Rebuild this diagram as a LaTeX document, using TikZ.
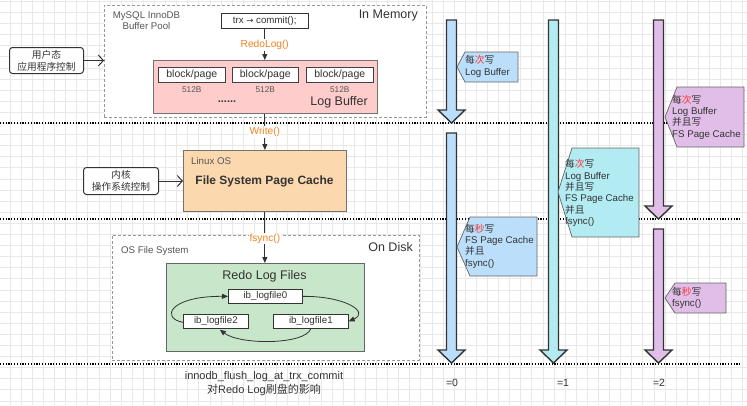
\documentclass[tikz,border=0pt]{standalone}
\usepackage{fontspec}
\setmainfont{Liberation Sans}
\newfontfamily\cjk{Noto Sans CJK SC}
\newfontfamily\dvs{DejaVu Sans}
\usetikzlibrary{arrows.meta,calc}
\definecolor{gridc}{HTML}{E8E8E8}
\definecolor{txt}{HTML}{333333}
\definecolor{graytxt}{HTML}{555555}
\definecolor{orng}{HTML}{F5821F}
\definecolor{hlred}{HTML}{FF3333}
\definecolor{pinkf}{HTML}{FFCCCC}
\definecolor{peachf}{HTML}{FCD8AE}
\definecolor{greenf}{HTML}{C8E6C9}
\definecolor{bluef}{HTML}{BBDEFB}
\definecolor{cyanf}{HTML}{B2EBF2}
\definecolor{purpf}{HTML}{E1BEE7}
\newcommand\zh[1]{{\cjk #1}}
\newcommand\hl[1]{{\cjk\color{hlred}#1}}
\newcommand\bigarrow[4]{%
  \draw[barrow, fill=#4] (#1-5,#2) -- (#1+5,#2) -- (#1+5,#3-13) -- (#1+13.5,#3-13)
    -- (#1,#3) -- (#1-13.5,#3-13) -- (#1-5,#3-13) -- cycle;}
\tikzset{
  x=1pt, y=-1pt,
  dotline/.style={draw=black, line width=1.1pt, dash pattern=on 1.2pt off 1.6pt},
  dashbox/.style={draw=gray!80, dashed, dash pattern=on 3pt off 2pt, fill=white, line width=0.7pt},
  plainbox/.style={draw=txt, fill=white, line width=0.6pt, inner sep=0pt, text=txt},
  barrow/.style={draw=black!80, line width=1.4pt, line join=miter},
  callout/.style={draw=black!60, line width=0.7pt},
  ctext/.style={text=txt, align=left, inner sep=0pt, font=\fontsize{9.7}{11.3}\selectfont},
  conn/.style={draw=txt, line width=0.8pt, -{Triangle[length=6pt,width=5pt]}},
  lbl/.style={text=orng, fill=white, inner sep=1pt, font=\fontsize{10.2}{11}\selectfont},
  ctrl/.style={draw=txt, line width=0.9pt, -{Straight Barb[length=5pt,width=11pt,line width=1pt]}},
  ctrlbox/.style={draw=txt, fill=white, rounded corners=3pt, line width=1pt, align=center,
     inner sep=0pt, text=txt, font=\fontsize{9.7}{12}\selectfont\cjk},
  lfbox/.style={draw=txt, fill=white, line width=0.7pt, inner sep=0pt, text=txt,
     minimum height=14pt, font=\fontsize{9.7}{11}\selectfont},
  cyc/.style={draw=txt, line width=0.8pt, -{Triangle[length=6pt,width=5pt]}},
}
\begin{document}
\begin{tikzpicture}
\useasboundingbox (0,0) rectangle (747,405);
\fill[white] (0,0) rectangle (747,405);
% grid
\foreach \i in {0,...,66} { \draw[gridc, line width=0.6pt] (10+11.1*\i,0) -- (10+11.1*\i,405); }
\foreach \j in {0,...,36} { \draw[gridc, line width=0.6pt] (0,1.2+11.1*\j) -- (747,1.2+11.1*\j); }

% dotted separators
\coordinate (d1a) at (0,123); \coordinate (d1b) at (740,123);
\coordinate (d2a) at (0,219); \coordinate (d2b) at (740,219);
\coordinate (d3a) at (0,364); \coordinate (d3b) at (740,364);
\draw[dotline] (d1a) -- (d1b);
\draw[dotline] (d2a) -- (d2b);
\draw[dotline] (d3a) -- (d3b);

% ---------- In memory ----------
\node[dashbox, anchor=north west, minimum width=322pt, minimum height=112pt, inner sep=0pt] (pool) at (104,5) {};
\node[text=graytxt, align=center, inner sep=0pt, font=\fontsize{9.7}{11.3}\selectfont] (poolt) at (146.5,20.5) {MySQL InnoDB\\Buffer Pool};
\node[text=txt, anchor=east, inner sep=0pt, font=\fontsize{12.5}{14}\selectfont] (mem) at (418,15) {In Memory};

\node[plainbox, anchor=north west, minimum width=87pt, minimum height=15pt, font=\fontsize{9.7}{11}\selectfont] (trx) at (221,13) {trx {\dvs\fontsize{8.5}{10}\selectfont →} commit();};

\node[draw=black!55, fill=pinkf, anchor=north west, minimum width=224pt, minimum height=53pt, inner sep=0pt, line width=0.7pt] (lb) at (153,60) {};
\node[plainbox, draw=black!75, anchor=north west, minimum width=67pt, minimum height=15pt, font=\fontsize{10.5}{12}\selectfont] (b1) at (158,67) {block/page};
\node[plainbox, draw=black!75, anchor=north west, minimum width=66pt, minimum height=15pt, font=\fontsize{10.5}{12}\selectfont] (b2) at (232,67) {block/page};
\node[plainbox, draw=black!75, anchor=north west, minimum width=67pt, minimum height=15pt, font=\fontsize{10.5}{12}\selectfont] (b3) at (306,67) {block/page};
\node[text=graytxt, inner sep=0pt, font=\fontsize{8.3}{9}\selectfont] (s1) at (b1.south |- 0,89.5) {512B};
\node[text=graytxt, inner sep=0pt, font=\fontsize{8.3}{9}\selectfont] (s2) at (b2.south |- 0,89.5) {512B};
\node[text=graytxt, inner sep=0pt, font=\fontsize{8.3}{9}\selectfont] (s3) at (b3.south |- 0,89.5) {512B};
\node[text=txt, inner sep=0pt, font=\fontsize{11}{12}\selectfont\bfseries] (dots) at (227,102) {......};
\node[text=txt, anchor=east, inner sep=0pt, font=\fontsize{12.5}{14}\selectfont] (lbt) at (368,102) {Log Buffer};

\draw[conn] (trx.south) -- (trx.south |- lb.north) node[lbl, pos=0.52] (redo) {RedoLog()};

\node[ctrlbox, anchor=north west, minimum width=74pt, minimum height=26pt] (user) at (9,47) {用户态\\应用程序控制};
\draw[ctrl] (user.east) -- (user.east -| pool.west);

% ---------- Page cache ----------
\node[draw=black!55, fill=peachf, anchor=north west, minimum width=163pt, minimum height=61pt, inner sep=0pt, line width=0.7pt] (pc) at (183,150) {};
\node[text=graytxt, anchor=west, inner sep=0pt, font=\fontsize{9.7}{11}\selectfont] (linux) at (191,161.5) {Linux OS};
\node[text=txt, inner sep=0pt, font=\fontsize{12}{14}\selectfont\bfseries] (pct) at (264.5,181) {File System Page Cache};
\draw[conn] (lb.south -| pc.north) -- (pc.north) node[lbl, pos=0.5] (wr) {Write()};

\node[ctrlbox, anchor=north west, minimum width=75pt, minimum height=27pt] (kern) at (83,167) {内核\\操作系统控制};
\draw[ctrl] (kern.east) -- (kern.east -| pc.west);

% ---------- On disk ----------
\node[dashbox, anchor=north west, minimum width=307pt, minimum height=125pt, inner sep=0pt] (osfs) at (112,235) {};
\node[text=graytxt, anchor=west, inner sep=0pt, font=\fontsize{9.7}{11}\selectfont] (osfst) at (121,250.5) {OS File System};
\node[text=txt, anchor=east, inner sep=0pt, font=\fontsize{12.5}{14}\selectfont] (disk) at (413,247) {On Disk};

\node[draw=black!60, fill=greenf, anchor=north west, minimum width=198pt, minimum height=88pt, inner sep=0pt, line width=0.7pt] (rlf) at (166,263) {};
\node[text=txt, inner sep=0pt, font=\fontsize{12.5}{14}\selectfont] (rlft) at (264.5,276) {Redo Log Files};
\draw[conn] (pc.south) -- (pc.south |- rlf.north) node[lbl, pos=0.52] (fs) {fsync()};

\node[lfbox, anchor=north west, minimum width=74pt] (lf0) at (228,289) {ib\_logfile0};
\node[lfbox, anchor=north west, minimum width=65pt] (lf2) at (183,314) {ib\_logfile2};
\node[lfbox, anchor=north west, minimum width=75pt] (lf1) at (273,314) {ib\_logfile1};
\draw[cyc] (lf0.east) .. controls (345,296) and (370,312) .. (lf1.east);
\draw[cyc] ($(lf1.south)+(0,0)$) .. controls (305,345) and (240,345) .. ($(lf2.south)+(4,1)$);
\draw[cyc] ($(lf2.west)+(0,1)$) .. controls (160,318) and (170,296) .. (lf0.west);

\node[text=txt, align=center, inner sep=0pt, font=\fontsize{11}{13.5}\selectfont] (cap) at (264,383.5) {innodb\_flush\_log\_at\_trx\_commit\\\zh{对}Redo Log\zh{刷盘的影响}};

% ---------- right side: =0 ----------
\bigarrow{451.5}{20}{123}{bluef}
\bigarrow{451.5}{133}{363}{bluef}
\draw[callout, fill=bluef] (457,67) -- (465,52) -- (518,52) -- (518,82) -- (465,82) -- cycle;
\node[ctext, anchor=west] (c1) at (465,66.5) {\zh{每}\hl{次}\zh{写}\\Log Buffer};
\draw[callout, fill=bluef] (457,247) -- (470,217) -- (537,217) -- (537,276) -- (470,276) -- cycle;
\node[ctext, anchor=west] (c2) at (465,246) {\zh{每}\hl{秒}\zh{写}\\FS Page Cache\\\zh{并且}\\fsync()};

% ---------- =1 ----------
\bigarrow{553.5}{20}{363}{cyanf}
\draw[callout, fill=cyanf] (558,192) -- (572,148) -- (639,148) -- (639,237) -- (572,237) -- cycle;
\node[ctext, anchor=west] (c3) at (565,193) {\zh{每}\hl{次}\zh{写}\\Log Buffer\\\zh{并且写}\\FS Page Cache\\\zh{并且}\\fsync()};

% ---------- =2 ----------
\bigarrow{658.5}{20}{219}{purpf}
\bigarrow{658.5}{229}{363}{purpf}
\draw[callout, fill=purpf] (665,117) -- (677,87) -- (744,87) -- (744,147) -- (677,147) -- cycle;
\node[ctext, anchor=west] (c4) at (672,117) {\zh{每}\hl{次}\zh{写}\\Log Buffer\\\zh{并且写}\\FS Page Cache};
\draw[callout, fill=purpf] (665,298) -- (675,283) -- (726,283) -- (726,313) -- (675,313) -- cycle;
\node[ctext, anchor=west] (c5) at (672,298) {\zh{每}\hl{秒}\zh{写}\\fsync()};

\node[text=txt, inner sep=0pt, font=\fontsize{10.5}{12}\selectfont] (v0) at (452,383) {=0};
\node[text=txt, inner sep=0pt, font=\fontsize{10.5}{12}\selectfont] (v1) at (563,383) {=1};
\node[text=txt, inner sep=0pt, font=\fontsize{10.5}{12}\selectfont] (v2) at (659,383) {=2};
\end{tikzpicture}
\end{document}
